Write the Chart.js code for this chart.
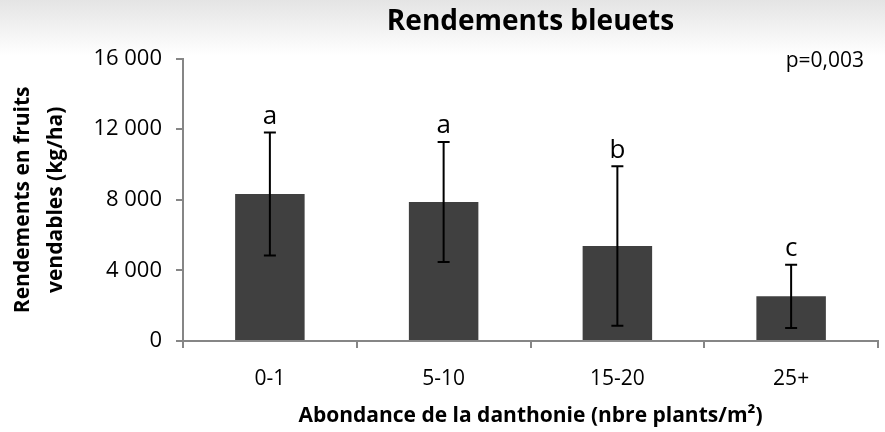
<!DOCTYPE html>
<html lang="fr">
<head>
    <meta charset="UTF-8">
    <title>Rendements bleuets</title>
    <script src="https://cdn.jsdelivr.net/npm/chart.js"></script>
    <style>
        html, body {
            margin: 0;
            padding: 0;
        }
        body {
            width: 885px;
            height: 432px;
            background: linear-gradient(#e4e4e4 0px, #ffffff 55px, #ffffff 100%);
        }
        .wrap {
            position: relative;
            width: 885px;
            height: 432px;
        }
    </style>
</head>
<body>
    <div class="wrap"><canvas id="yieldChart"></canvas></div>

    <script>
        // values (kg/ha)
        const categories = ['0-1', '5-10', '15-20', '25+'];
        const yieldMeans = [8330, 7880, 5380, 2530];
        const yieldErrors = [3480, 3400, 4520, 1790];
        const groupLetters = ['a', 'a', 'b', 'c'];
        const yTickValues = [0, 4000, 8000, 12000, 16000];
        const pValueText = 'p=0,003';

        const FONT = "'Open Sans', 'DejaVu Sans', sans-serif";

        function spaced(v) {
            return String(v).replace(/\B(?=(\d{3})+$)/g, ' ');
        }

        // error bars + significance letters, drawn through the y scale
        const errorBarPlugin = {
            id: 'errorBars',
            afterDatasetsDraw(chart) {
                const ctx = chart.ctx;
                const yScale = chart.scales.y;
                const bars = chart.getDatasetMeta(0).data;
                ctx.save();
                ctx.strokeStyle = '#000';
                ctx.lineWidth = 2;
                bars.forEach((bar, i) => {
                    const top = yScale.getPixelForValue(yieldMeans[i] + yieldErrors[i]);
                    const bottom = yScale.getPixelForValue(yieldMeans[i] - yieldErrors[i]);
                    ctx.beginPath();
                    ctx.moveTo(bar.x, top);
                    ctx.lineTo(bar.x, bottom);
                    ctx.moveTo(bar.x - 6, top);
                    ctx.lineTo(bar.x + 6, top);
                    ctx.moveTo(bar.x - 6, bottom);
                    ctx.lineTo(bar.x + 6, bottom);
                    ctx.stroke();

                    ctx.fillStyle = '#000';
                    ctx.font = '26px ' + FONT;
                    ctx.textAlign = 'center';
                    ctx.textBaseline = 'bottom';
                    ctx.fillText(groupLetters[i], bar.x, top - 3);
                });
                // p value, top right
                ctx.font = '21px ' + FONT;
                ctx.textAlign = 'right';
                ctx.textBaseline = 'middle';
                ctx.fillText(pValueText, chart.chartArea.right - 14, chart.chartArea.top + 2);
                ctx.restore();
            }
        };

        const ctx = document.getElementById('yieldChart').getContext('2d');
        new Chart(ctx, {
            type: 'bar',
            data: {
                labels: categories,
                datasets: [{
                    data: yieldMeans,
                    backgroundColor: '#404040',
                    borderColor: '#404040',
                    borderWidth: 0,
                    barPercentage: 0.8,
                    categoryPercentage: 0.5
                }]
            },
            options: {
                responsive: true,
                maintainAspectRatio: false,
                animation: false,
                layout: {
                    padding: { top: 0, right: 7, bottom: 0, left: 0 }
                },
                plugins: {
                    legend: { display: false },
                    tooltip: { enabled: false },
                    title: {
                        display: true,
                        fullSize: false, // centre over the plot area
                        text: 'Rendements bleuets',
                        color: '#000',
                        font: { family: FONT, size: 28, weight: 'bold' },
                        padding: { top: 5, bottom: 20 }
                    }
                },
                scales: {
                    x: {
                        afterFit: (s) => { s.height = 91; },
                        grid: {
                            offset: true,
                            drawOnChartArea: false,
                            drawTicks: true,
                            tickLength: 7,
                            color: '#868686',
                            lineWidth: 2
                        },
                        border: { color: '#868686', width: 2 },
                        ticks: {
                            color: '#000',
                            padding: 18,
                            font: { family: FONT, size: 21 }
                        },
                        title: {
                            display: true,
                            text: 'Abondance de la danthonie (nbre plants/m²)',
                            color: '#000',
                            font: { family: FONT, size: 21, weight: 'bold' },
                            padding: { top: 0, bottom: 3 }
                        }
                    },
                    y: {
                        min: 0,
                        max: 16000,
                        afterFit: (s) => { s.width = 183; },
                        afterBuildTicks: (s) => {
                            s.ticks = yTickValues.map(v => ({ value: v }));
                        },
                        grid: {
                            drawOnChartArea: false,
                            drawTicks: true,
                            tickLength: 7,
                            color: '#868686',
                            lineWidth: 2
                        },
                        border: { color: '#868686', width: 2 },
                        ticks: {
                            color: '#000',
                            padding: 14,
                            font: { family: FONT, size: 22 },
                            callback: (v) => spaced(v)
                        },
                        title: {
                            display: true,
                            text: ['Rendements en fruits', 'vendables (kg/ha)'],
                            color: '#000',
                            font: { family: FONT, size: 21, weight: 'bold', lineHeight: 1.6 },
                            padding: { top: 6, bottom: 0 }
                        }
                    }
                }
            },
            plugins: [errorBarPlugin]
        });
    </script>
</body>
</html>
